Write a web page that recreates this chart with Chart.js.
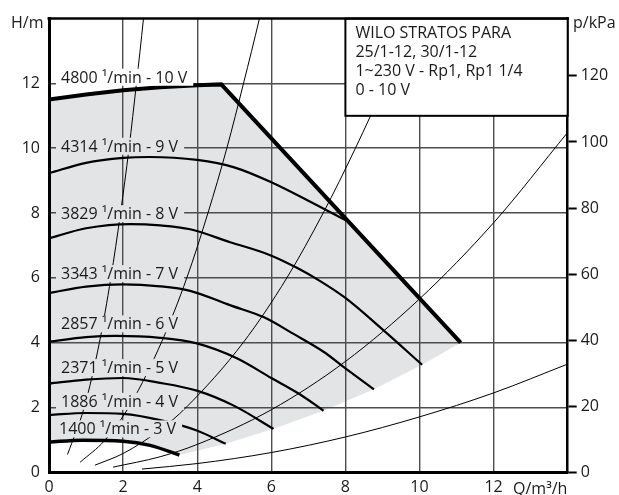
<!DOCTYPE html>
<html>
<head>
<meta charset="utf-8">
<script src="https://cdn.jsdelivr.net/npm/chart.js@4.4.1/dist/chart.umd.min.js"></script>
<style>
  html, body { margin: 0; padding: 0; background: #fff; }
  #wrap { width: 619px; height: 495px; position: relative; }
</style>
</head>
<body>
<div id="wrap"><canvas id="myChart"></canvas></div>
<script>
// ---- valores ----
const xTicks = [0, 2, 4, 6, 8, 10, 12];
const hTicks = [0, 2, 4, 6, 8, 10, 12];
const pTicks = [0, 20, 40, 60, 80, 100, 120];
const kPaPerM = 9.81;

const speedLabels = [
  '4800 ¹/min - 10 V', '4314 ¹/min - 9 V', '3829 ¹/min - 8 V', '3343 ¹/min - 7 V',
  '2857 ¹/min - 6 V', '2371 ¹/min - 5 V', '1886 ¹/min - 4 V', '1400 ¹/min - 3 V'
];
const infoLines = ['WILO STRATOS PARA', '25/1-12, 30/1-12', '1~230 V - Rp1, Rp1 1/4', '0 - 10 V'];

// curvas de velocidad (Q en m3/h, H en m)
const q10 = [0, 1, 2, 3, 4, 4.65, 11.11];
const h10 = [11.5, 11.66, 11.79, 11.88, 11.94, 11.97, 4.0];
const q9 = [0, 1, 2, 2.7, 4, 5, 6, 7, 8.05];
const h9 = [9.23, 9.55, 9.7, 9.73, 9.64, 9.41, 8.95, 8.38, 7.75];
const q8 = [0, 1, 2.2, 3, 3.81, 4.89, 5.97, 6.69, 7.32, 8, 9.03, 10.07];
const h8 = [7.22, 7.53, 7.66, 7.62, 7.5, 7.1, 6.7, 6.31, 5.9, 5.38, 4.38, 3.32];
const q7 = [0, 1, 2, 3, 3.81, 4.9, 5.79, 6.6, 7.41, 8, 8.77];
const h7 = [5.53, 5.73, 5.8, 5.74, 5.6, 5.15, 4.79, 4.27, 3.72, 3.21, 2.56];
const q6 = [0, 1, 1.8, 3, 3.99, 5.07, 6, 6.78, 7.41];
const h6 = [4.03, 4.17, 4.21, 4.15, 3.98, 3.52, 2.91, 2.4, 1.9];
const q5 = [0, 1, 2, 3, 3.99, 5.0, 6.06];
const h5 = [2.74, 2.86, 2.91, 2.76, 2.52, 2.05, 1.34];
const q4 = [0, 1, 2, 3, 3.99, 4.77];
const h4 = [1.77, 1.83, 1.8, 1.61, 1.29, 0.88];
const q3 = [0, 0.9, 2, 2.73, 3.52];
const h3 = [0.93, 0.99, 0.96, 0.83, 0.53];

// borde inferior del area gris
const qEdge = [3.52, 4.77, 6.06, 7.41, 8.77, 10.07, 11.11];
const hEdge = [0.53, 0.88, 1.34, 1.9, 2.56, 3.32, 4.0];

// curvas de la instalacion (finas)
const qSysA = [0.5, 0.95, 1.36, 1.67, 1.93, 2.16, 2.36, 2.55, 2.6];
const hSysA = [0.55, 2, 4, 6, 8, 10, 12, 14, 14.6];
const qSysB = [0.84, 1.5, 2.2, 3.05, 3.72, 4.29, 4.8, 5.25, 5.68, 5.8];
const hSysB = [0.31, 0.98, 2.1, 4.05, 6, 8, 10, 12, 14, 14.6];
const qSysC = [1.24, 2, 3, 3.7, 5.24, 6.42, 7.4, 8.27, 9.07, 9.8, 10];
const hSysC = [0.22, 0.58, 1.31, 2, 4, 6, 8, 10, 12, 14, 14.6];
const qSysD = [1.73, 3, 4, 6, 8, 10, 12, 14];
const hSysD = [0.16, 0.48, 0.86, 1.93, 3.42, 5.35, 7.7, 10.49];
const qSysE = [2.51, 4, 6, 8, 10, 12, 14];
const hSysE = [0.1, 0.27, 0.61, 1.09, 1.71, 2.45, 3.34];

// ---- estilos ----
const fillGray = '#e3e4e6';
const textColor = '#1a1a1a';
const gridColor = '#4d4d4d';
const fontFam = '"Open Sans", sans-serif';

function pts(q, h) {
  return q.map((x, i) => ({x: x, y: h[i]}));
}
function rev(a) { return a.slice().reverse(); }

const areaPts = pts(q10, h10).concat(rev(pts(qEdge, hEdge)), rev(pts(q3, h3)));

function curva(q, h, w) {
  return {data: pts(q, h), borderColor: '#000', borderWidth: w, pointRadius: 0,
    cubicInterpolationMode: 'monotone', fill: false};
}

let datasets = [
  {data: areaPts, borderWidth: 0, borderColor: 'rgba(0,0,0,0)', backgroundColor: fillGray,
   pointRadius: 0, tension: 0, fill: 'shape'},
  curva(qSysA, hSysA, 1), curva(qSysB, hSysB, 1), curva(qSysC, hSysC, 1),
  curva(qSysD, hSysD, 1), curva(qSysE, hSysE, 1),
  curva(q9, h9, 2.2), curva(q8, h8, 2.2), curva(q7, h7, 2.2), curva(q6, h6, 2.2),
  curva(q5, h5, 2.2), curva(q4, h4, 2.2), curva(q3, h3, 3.5),
  {data: pts(q10, h10), borderColor: '#000', borderWidth: 4, pointRadius: 0, tension: 0, fill: false,
   borderJoinStyle: 'miter'}
];

// posiciones de las etiquetas (px izquierda, H del centro)
const labelLeft = [61, 61, 61, 61, 61, 61, 61, 59];
const labelH = [12.19, 10.06, 7.98, 6.13, 4.58, 3.23, 2.19, 1.34];

const extras = {
  id: 'extras',
  afterDatasetsDraw(chart) {
    const ctx = chart.ctx;
    const xs = chart.scales.x, ys = chart.scales.y;
    const area = chart.chartArea;
    ctx.save();
    ctx.font = '16px ' + fontFam;
    ctx.textBaseline = 'middle';
    ctx.textAlign = 'left';
    speedLabels.forEach((txt, i) => {
      const px = labelLeft[i];
      const py = ys.getPixelForValue(labelH[i]);
      const w = ctx.measureText(txt).width;
      ctx.fillStyle = i === 0 ? '#fff' : fillGray;
      ctx.fillRect(px - 5, py - 8.5, w + 11, 17);
      ctx.fillStyle = textColor;
      ctx.fillText(txt, px, py + 1);
    });

    // cuadro del modelo
    const bx = xs.getPixelForValue(8), by = ys.getPixelForValue(11);
    ctx.fillStyle = '#fff';
    ctx.fillRect(bx, area.top, area.right - bx, by - area.top);
    ctx.strokeStyle = '#000';
    ctx.lineWidth = 2;
    ctx.strokeRect(bx, area.top, area.right - bx, by - area.top);
    ctx.fillStyle = textColor;
    infoLines.forEach((t, i) => {
      ctx.fillText(t, bx + 10, 33 + i * 19);
    });

    // borde superior
    ctx.lineWidth = 2.5;
    ctx.beginPath();
    ctx.moveTo(area.left - 1.5, area.top);
    ctx.lineTo(area.right + 1, area.top);
    ctx.stroke();

    // titulos de ejes
    ctx.fillStyle = textColor;
    ctx.fillText('H/m', 11, 23);
    ctx.fillText('p/kPa', 573, 23);
    ctx.fillText('Q/m³/h', 513, 489);
    ctx.restore();
  }
};

const tickFont = {family: fontFam, size: 16};

let config = {
  type: 'line',
  data: {datasets: datasets},
  options: {
    responsive: true,
    maintainAspectRatio: false,
    animation: false,
    layout: {autoPadding: false, padding: {top: 10.7, left: 0, right: 0, bottom: 0}},
    plugins: {
      legend: {display: false},
      tooltip: {enabled: false},
      filler: {drawTime: 'beforeDraw'}
    },
    scales: {
      x: {
        type: 'linear', min: 0, max: 14,
        afterBuildTicks: s => { s.ticks = xTicks.map(v => ({value: v})); },
        afterFit: s => { s.height = 22.7; },
        grid: {color: gridColor, lineWidth: 1.4, drawTicks: false},
        border: {color: '#000', width: 3},
        ticks: {padding: 6, font: tickFont, color: textColor, maxRotation: 0}
      },
      y: {
        type: 'linear', position: 'left', min: 0, max: 14,
        afterBuildTicks: s => { s.ticks = hTicks.map(v => ({value: v})); },
        afterFit: s => { s.width = 49; },
        grid: {color: gridColor, lineWidth: 1.6, drawTicks: false},
        border: {color: '#000', width: 3},
        ticks: {padding: 9, font: tickFont, color: textColor}
      },
      p: {
        type: 'linear', position: 'right', min: 0, max: 14 * kPaPerM,
        afterBuildTicks: s => { s.ticks = pTicks.map(v => ({value: v})); },
        afterFit: s => { s.width = 51.3; },
        grid: {drawOnChartArea: false, drawTicks: true, tickLength: 9, tickColor: '#000', tickWidth: 2},
        border: {color: '#000', width: 2.5},
        ticks: {padding: 4, font: tickFont, color: textColor}
      }
    }
  },
  plugins: [extras]
};

var myChart = new Chart(document.getElementById('myChart'), config);
</script>
</body>
</html>
